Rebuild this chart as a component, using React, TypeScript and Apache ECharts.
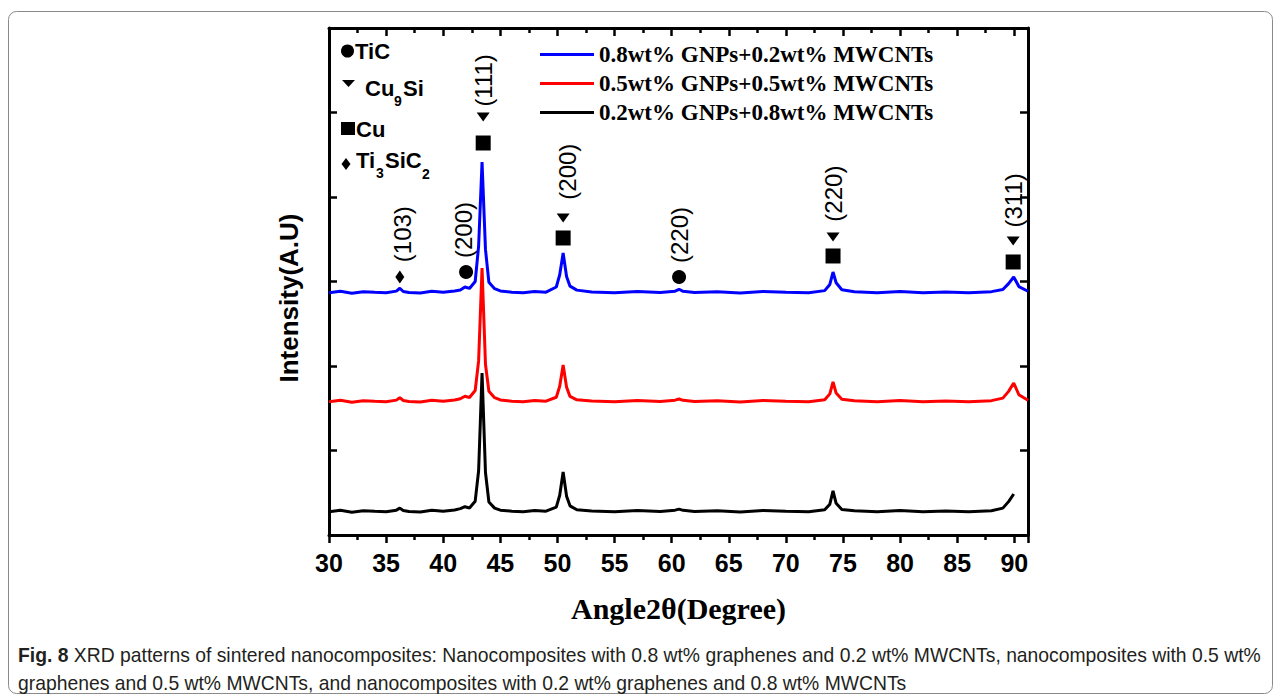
import React, { useEffect, useRef } from "react";
import * as echarts from "echarts";

// ---------- data ----------
const seriesNames = [
  "0.8wt% GNPs+0.2wt% MWCNTs",
  "0.5wt% GNPs+0.5wt% MWCNTs",
  "0.2wt% GNPs+0.8wt% MWCNTs",
];

const angles = [
  30, 31, 32, 33, 34, 35, 35.9, 36.2,
  36.5, 37, 38, 39, 40, 41, 41.5, 41.9,
  42.3, 42.8, 43.1, 43.4, 43.7, 44.0, 44.5, 45,
  46, 47, 48, 49, 49.9, 50.2, 50.5, 50.8,
  51.1, 51.7, 53, 55, 57, 59, 60.3, 60.65,
  61.0, 62, 64, 66, 68, 70, 72, 73.4,
  73.85, 74.13, 74.4, 74.9, 76, 78, 80, 82,
  84, 86, 88, 89.0, 89.5, 89.95, 90.4, 91.2,
];

const blueValues = [
  2868, 2884, 2862, 2880, 2872, 2866, 2886, 2920,
  2882, 2870, 2864, 2884, 2874, 2888, 2900, 2935,
  2918, 3000, 3420, 4414, 3380, 2990, 2915, 2888,
  2874, 2868, 2882, 2874, 2935, 3080, 3337, 3060,
  2945, 2898, 2876, 2866, 2882, 2870, 2886, 2908,
  2884, 2870, 2878, 2864, 2882, 2872, 2868, 2892,
  2965, 3112, 2985, 2902, 2878, 2868, 2882, 2866,
  2876, 2868, 2880, 2905, 2975, 3053, 2940, 2885,
];

const redValues = [
  1578, 1594, 1572, 1590, 1582, 1576, 1596, 1625,
  1592, 1580, 1574, 1594, 1584, 1598, 1612, 1642,
  1628, 1710, 2060, 3160, 2020, 1700, 1625, 1598,
  1584, 1578, 1592, 1584, 1630, 1760, 2012, 1750,
  1640, 1600, 1586, 1576, 1592, 1580, 1596, 1610,
  1594, 1580, 1588, 1574, 1592, 1582, 1578, 1600,
  1670, 1811, 1680, 1606, 1588, 1578, 1592, 1576,
  1586, 1578, 1590, 1620, 1700, 1799, 1660, 1594,
];

const blackValues: (number | null)[] = [
  276, 292, 270, 288, 280, 274, 294, 318,
  290, 278, 272, 292, 282, 296, 312, 335,
  320, 400, 760, 1917, 740, 390, 318, 294,
  282, 276, 290, 282, 330, 470, 746, 460,
  345, 298, 284, 274, 290, 278, 294, 306,
  292, 278, 286, 272, 290, 280, 276, 298,
  365, 521, 375, 302, 286, 276, 290, 274,
  284, 276, 288, 318, 395, 485, null, null,
];

// phase markers above the peaks
const markPhase = ["Ti3SiC2", "TiC", "Cu9Si", "Cu", "Cu9Si", "Cu", "TiC", "Cu9Si", "Cu", "Cu9Si", "Cu"];
const markAngle = [36.2, 42.0, 43.5, 43.5, 50.5, 50.5, 60.65, 74.13, 74.13, 89.9, 89.9];
const markValue = [3053, 3112, 4947, 4639, 3751, 3515, 3053, 3527, 3302, 3479, 3231];

// Miller index labels
const hklText = ["(103)", "(200)", "(111)", "(200)", "(220)", "(220)", "(311)"];
const hklAngle = [36.4, 41.8, 43.5, 50.9, 60.65, 74.13, 89.9];
const hklValue = [3560, 3609, 5380, 4300, 3550, 4040, 3960];

const yAxisName = "Intensity(A.U)";
const xAxisName = "Angle2θ(Degree)";
const captionBold = "Fig. 8";
const captionLine1 =
  " XRD patterns of sintered nanocomposites: Nanocomposites with 0.8 wt% graphenes and 0.2 wt% MWCNTs, nanocomposites with 0.5 wt%";
const captionLine2 =
  "graphenes and 0.5 wt% MWCNTs, and nanocomposites with 0.2 wt% graphenes and 0.8 wt% MWCNTs";

// ---------- styles ----------
const colors = ["#0000ff", "#ff0000", "#000000"];
const SANS = "'Liberation Sans', Arial, sans-serif";
const SERIF = "'Liberation Serif', 'Times New Roman', serif";

const phaseStyle: Record<string, { symbol: string; size: number | number[]; rotate: number }> = {
  TiC: { symbol: "circle", size: 14, rotate: 0 },
  Cu9Si: { symbol: "triangle", size: [13, 9], rotate: 180 },
  Cu: { symbol: "rect", size: 15, rotate: 0 },
  Ti3SiC2: { symbol: "diamond", size: [9, 13], rotate: 0 },
};

function measure(text: string, font: string): number {
  const ctx = document.createElement("canvas").getContext("2d");
  if (!ctx) return text.length * 9;
  ctx.font = font;
  return ctx.measureText(text).width;
}

export default function App() {
  const ref = useRef<HTMLDivElement>(null);

  useEffect(() => {
    if (!ref.current) return;
    const chart = echarts.init(ref.current, undefined, { renderer: "svg" });

    const capSize = 20;
    const capFamily = "'Liberation Sans', Arial, sans-serif";
    const w1 =
      measure(captionBold, `bold ${capSize}px ${capFamily}`) +
      measure(captionLine1, `${capSize}px ${capFamily}`);
    const capScale = 1244 / w1;

    const axisLineStyle = { color: "#000", width: 3 };
    const tickStyle = { color: "#000", width: 2.5 };

    const lineSeries = [blueValues, redValues, blackValues].map((vals, k) => ({
      name: seriesNames[k],
      type: "line",
      data: angles.map((a, i) => [a, vals[i]]),
      symbol: "none",
      connectNulls: false,
      lineStyle: { width: 3, color: colors[k] },
      itemStyle: { color: colors[k] },
      z: 2 + k,
    }));

    const markerData = markAngle.map((a, i) => {
      const st = phaseStyle[markPhase[i]];
      return {
        value: [a, markValue[i]],
        symbol: st.symbol,
        symbolSize: st.size,
        symbolRotate: st.rotate,
      };
    });

    const labelData = hklAngle.map((a, i) => ({ name: hklText[i], value: [a, hklValue[i]] }));

    const keyText = (text: string, x: number, y: number, size = 22) => ({
      type: "text",
      x,
      y,
      silent: true,
      style: { text, fontFamily: SANS, fontWeight: "bold", fontSize: size, fill: "#000", verticalAlign: "middle" },
    });

    const option: any = {
      animation: false,
      backgroundColor: "#ffffff",
      grid: { left: 329, top: 28, width: 699, height: 507, containLabel: false },
      legend: {
        data: seriesNames.map((n) => ({ name: n, icon: "rect" })),
        orient: "vertical",
        left: 540,
        top: 43,
        padding: 0,
        itemWidth: 54,
        itemHeight: 3,
        itemGap: 6,
        textStyle: {
          fontFamily: SERIF,
          fontWeight: "bold",
          fontSize: 23,
          color: "#000",
        },
      },
      xAxis: [
        {
          type: "value",
          min: 30,
          max: 91.2,
          interval: 5,
          position: "bottom",
          axisLine: { show: true, onZero: false, lineStyle: axisLineStyle },
          axisTick: { show: true, inside: false, length: 8, lineStyle: tickStyle },
          minorTick: { show: true, splitNumber: 2, length: 5, lineStyle: tickStyle },
          axisLabel: {
            show: true,
            margin: 15,
            fontSize: 25,
            fontWeight: "bold",
            fontFamily: SANS,
            color: "#000",
            showMaxLabel: false,
          },
          splitLine: { show: false },
          minorSplitLine: { show: false },
          name: xAxisName,
          nameLocation: "middle",
          nameGap: 58,
          nameTextStyle: { fontFamily: SERIF, fontWeight: "bold", fontSize: 30, color: "#000" },
        },
        {
          type: "value",
          min: 30,
          max: 91.2,
          interval: 5,
          position: "top",
          axisLine: { show: true, onZero: false, lineStyle: axisLineStyle },
          axisTick: { show: true, inside: true, length: 8, lineStyle: tickStyle },
          minorTick: { show: true, splitNumber: 2, length: 5, lineStyle: tickStyle },
          axisLabel: { show: false },
          splitLine: { show: false },
        },
      ],
      yAxis: [
        {
          type: "value",
          min: 0,
          max: 6000,
          interval: 1000,
          position: "left",
          axisLine: { show: true, onZero: false, lineStyle: axisLineStyle },
          axisTick: { show: true, inside: true, length: 8, lineStyle: tickStyle },
          axisLabel: { show: false },
          splitLine: { show: false },
        },
        {
          type: "value",
          min: 0,
          max: 6000,
          interval: 1000,
          position: "right",
          axisLine: { show: true, onZero: false, lineStyle: axisLineStyle },
          axisTick: { show: true, inside: true, length: 8, lineStyle: tickStyle },
          axisLabel: { show: false },
          splitLine: { show: false },
        },
      ],
      series: [
        ...lineSeries,
        {
          name: "phases",
          type: "scatter",
          data: markerData,
          itemStyle: { color: "#000", opacity: 1 },
          silent: true,
          z: 6,
        },
        {
          name: "hkl",
          type: "scatter",
          data: labelData,
          symbolSize: 1,
          itemStyle: { color: "rgba(0,0,0,0)", opacity: 1 },
          silent: true,
          label: {
            show: true,
            position: "inside",
            rotate: 90,
            formatter: "{b}",
            fontFamily: SANS,
            fontSize: 24,
            color: "#000",
            opacity: 1,
          },
          z: 6,
        },
      ],
      graphic: [
        {
          type: "rect",
          shape: { x: 8.5, y: 11.5, width: 1264, height: 682, r: 8 },
          style: { fill: "none", stroke: "#8a8a8a", lineWidth: 1 },
          z: -10,
          silent: true,
        },
        // y-axis title
        {
          type: "text",
          x: 289,
          y: 298,
          rotation: Math.PI / 2,
          silent: true,
          style: {
            text: yAxisName,
            fontFamily: SANS,
            fontWeight: "bold",
            fontSize: 26,
            fill: "#000",
            align: "center",
            verticalAlign: "middle",
          },
        },
        // phase key (top-left)
        { type: "circle", shape: { cx: 347.5, cy: 51, r: 6.5 }, style: { fill: "#000" } },
        keyText("TiC", 355, 51),
        { type: "polygon", shape: { points: [[342, 80], [355, 80], [348.5, 87]] }, style: { fill: "#000" } },
        keyText("Cu", 365, 88),
        keyText("9", 394, 101, 14),
        keyText("Si", 403, 88),
        { type: "rect", shape: { x: 341, y: 122, width: 14, height: 13 }, style: { fill: "#000" } },
        keyText("Cu", 356, 129),
        { type: "polygon", shape: { points: [[346, 158], [350.5, 164], [346, 170], [341.5, 164]] }, style: { fill: "#000" } },
        keyText("Ti", 356, 160),
        keyText("3", 376, 173, 14),
        keyText("SiC", 385, 160),
        keyText("2", 422, 174, 14),
        // caption
        {
          type: "text",
          x: 18,
          y: 655,
          scaleX: capScale,
          silent: true,
          style: {
            text: `{b|${captionBold}}${captionLine1}`,
            fontFamily: capFamily,
            fontSize: capSize,
            fill: "#231f20",
            verticalAlign: "middle",
            rich: {
              b: { fontFamily: capFamily, fontSize: capSize, fontWeight: "bold", fill: "#231f20" },
            },
          },
        },
        {
          type: "text",
          x: 18,
          y: 683,
          scaleX: capScale,
          silent: true,
          style: {
            text: captionLine2,
            fontFamily: capFamily,
            fontSize: capSize,
            fill: "#231f20",
            verticalAlign: "middle",
          },
        },
      ],
    };

    chart.setOption(option);
    return () => {
      chart.dispose();
    };
  }, []);

  return (
    <div
      ref={ref}
      style={{ position: "absolute", left: 0, top: 0, width: "1281px", height: "695px", background: "#fff" }}
    />
  );
}
